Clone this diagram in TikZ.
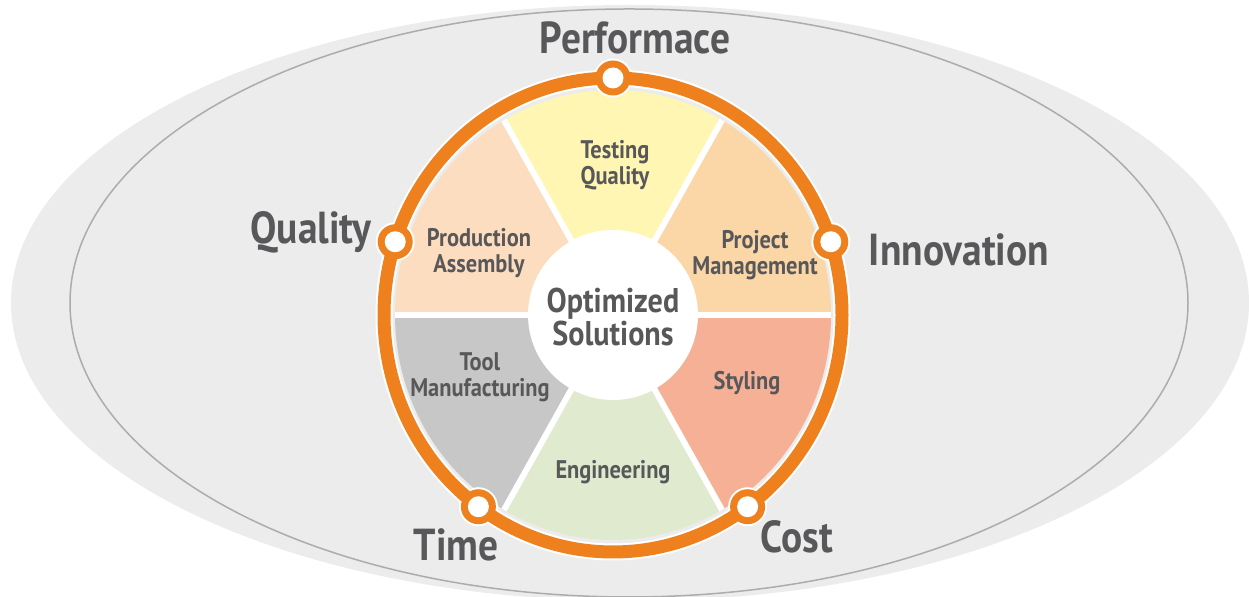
\documentclass[tikz,border=0pt]{standalone}
\usepackage{fontspec}
\setmainfont{PT Sans}[FakeStretch=0.88]
\usepackage{tikz}
\usetikzlibrary{calc}
\usepackage{xcolor}
\definecolor{bggray}{RGB}{235,236,235}
\definecolor{linegray}{RGB}{172,172,172}
\definecolor{ringorange}{RGB}{238,128,30}
\definecolor{textgray}{RGB}{88,88,90}
\definecolor{testyellow}{RGB}{255,246,180}
\definecolor{prodpeach}{RGB}{253,221,191}
\definecolor{projpeach}{RGB}{251,214,167}
\definecolor{stylsalmon}{RGB}{245,176,150}
\definecolor{enggreen}{RGB}{224,234,207}
\definecolor{toolgray}{RGB}{198,199,198}
\newcommand{\slice}[3] {
    \fill[{#3}] (hub) -- ++(#1:218 and 225)
        arc[start angle=#1, end angle=#2, x radius=218, y radius=225] -- cycle;
}
\newcommand{\bigword}[3] {
    \node[bigword] (#1) at (#2) {#3};
}
\newcommand{\wedgeword}[3] {
    \node[wedgeword] (#1) at (#2) {#3};
}
\tikzset{
    bigword/.style={
        text=textgray,
        font=\bfseries\fontsize{25.5}{28}\selectfont,
        inner sep=0mm
    },
    wedgeword/.style={
        text=textgray,
        align=center,
        font=\bfseries\fontsize{14.5}{14.8}\selectfont,
        inner sep=0mm
    },
    dot/.style={
        circle,
        fill=white,
        minimum size=0.42cm,
        inner sep=0mm
    }
}

\begin{document}
\begin{tikzpicture}[x=0.02cm,y=0.02cm]
    \useasboundingbox (0,0) rectangle (1249,597);
    \clip (0,0) rectangle (1249,597);
    % backdrop
    \fill[bggray] (630,294) ellipse[x radius=619, y radius=298];
    \draw[linegray,line width=0.03cm] (629,294) ellipse[x radius=559, y radius=294];
    \coordinate (hub) at (613,282);
    % pie
    \slice{60}{120}{testyellow}
    \slice{120}{180}{prodpeach}
    \slice{180}{240}{toolgray}
    \slice{240}{300}{enggreen}
    \slice{300}{360}{stylsalmon}
    \slice{0}{60}{projpeach}
    \foreach \a in {0,60,...,300}
        \draw[white,line width=0.12cm] (hub) -- ++(\a:218 and 225);
    \fill[white] (hub) circle[radius=85];
    % ring
    \draw[white,line width=0.34cm] (hub) ellipse[x radius=229, y radius=237];
    \foreach \a in {90,162,234,306,18}
        \fill[white] ($(hub)+(\a:229 and 237)$) circle[radius=19.5];
    \draw[ringorange,line width=0.26cm] (hub) ellipse[x radius=229, y radius=237];
    \foreach \a in {90,162,234,306,18}
        \fill[ringorange] ($(hub)+(\a:229 and 237)$) circle[radius=17.5];
    \node[dot] (dotperf) at ($(hub)+(90:229 and 237)$) {};
    \node[dot] (dotqual) at ($(hub)+(162:229 and 237)$) {};
    \node[dot] (dottime) at ($(hub)+(234:229 and 237)$) {};
    \node[dot] (dotcost) at ($(hub)+(306:229 and 237)$) {};
    \node[dot] (dotinno) at ($(hub)+(18:229 and 237)$) {};
    % labels
    \bigword{perf}{635,559}{Performace}
    \bigword{qual}{311,365}{Quality}
    \bigword{inno}{959,347}{Innovation}
    \bigword{time}{456,52}{Time}
    \bigword{cost}{797,60}{Cost}
    \wedgeword{testq}{615,432}{Testing\\Quality}
    \wedgeword{prodas}{479,344}{Production\\Assembly}
    \wedgeword{projm}{755,342}{Project\\Management}
    \wedgeword{toolm}{480,220}{Tool\\Manufacturing}
    \wedgeword{styl}{747,214}{Styling}
    \wedgeword{engi}{613,125}{Engineering}
    \node[wedgeword,font=\bfseries\fontsize{19.5}{17.5}\selectfont] (optsol) at ($(hub)+(0,-2)$) {Optimized\\Solutions};
\end{tikzpicture}
\end{document}
